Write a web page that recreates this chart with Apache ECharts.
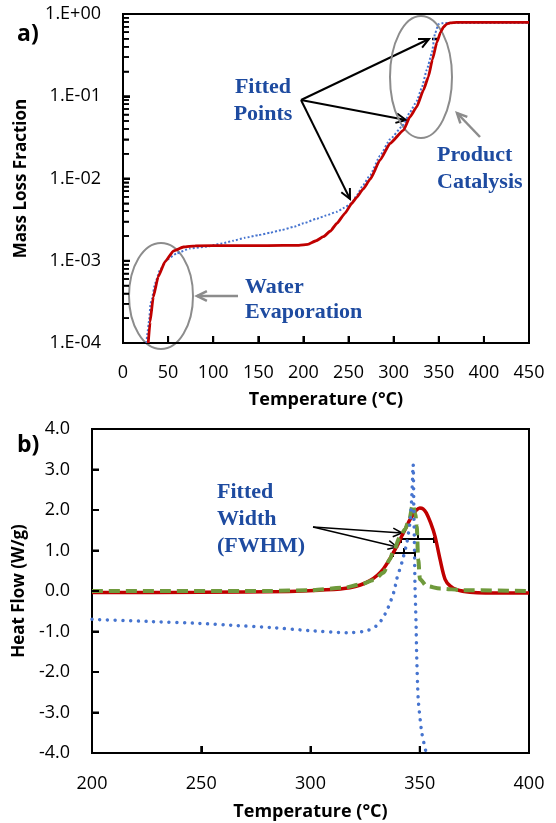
<!DOCTYPE html>
<html><head><meta charset="utf-8">
<script src="https://cdn.jsdelivr.net/npm/echarts@6/dist/echarts.min.js"></script>
<style>html,body{margin:0;padding:0;background:#fff}#c{width:556px;height:823px}</style>
</head><body><div id="c"></div>
<script>
// ---------- Panel a: mass loss fraction (log) ----------
const tempA_fit = [28, 30, 33.5, 39, 46.5, 56, 67, 80, 120, 160, 195, 205, 214, 222, 230, 237, 246, 253.5, 259, 266, 274, 285, 296, 311, 318, 325.5, 333, 338.4, 343, 347.8, 352, 355, 358.5, 362.5, 370, 450];
const massA_fit = [1.0e-4, 1.8e-4, 3.6e-4, 6.4e-4, 9.7e-4, 1.32e-3, 1.47e-3, 1.52e-3, 1.53e-3, 1.53e-3, 1.54e-3, 1.58e-3, 1.75e-3, 1.96e-3, 2.3e-3, 2.85e-3, 3.77e-3, 4.98e-3, 5.9e-3, 7.4e-3, 9.8e-3, 1.68e-2, 2.67e-2, 3.87e-2, 5.6e-2, 7.4e-2, 0.119, 0.172, 0.28, 0.45, 0.6, 0.69, 0.75, 0.78, 0.79, 0.79];
const tempA_exp = [26, 27, 29, 30.5, 32, 35.5, 41, 48, 59.5, 74, 93, 100, 110, 122, 135, 150, 163, 175, 190, 200, 215, 225, 237, 245, 253.5, 259, 266, 274, 285, 296, 311, 318, 325.5, 331, 336.7, 342.2, 345.9, 349.6, 353, 360, 450];
const massA_exp = [1.0e-4, 1.3e-4, 1.9e-4, 3.0e-4, 3.4e-4, 5.3e-4, 7.7e-4, 1.02e-3, 1.23e-3, 1.41e-3, 1.48e-3, 1.55e-3, 1.62e-3, 1.75e-3, 1.9e-3, 2.05e-3, 2.19e-3, 2.35e-3, 2.6e-3, 2.85e-3, 3.25e-3, 3.55e-3, 3.94e-3, 4.4e-3, 5.0e-3, 6.2e-3, 8.3e-3, 1.1e-2, 1.9e-2, 3.0e-2, 4.5e-2, 6.4e-2, 8.7e-2, 0.125, 0.21, 0.33, 0.58, 0.75, 0.77, 0.78, 0.78];
const yTickLabelsA = ['1.E-04', '1.E-03', '1.E-02', '1.E-01', '1.E+00'];
const xTicksA = [50, 100, 150, 200, 250, 300, 350, 400];
const yDecadesA = [1e-4, 1e-3, 1e-2, 1e-1, 1];
const minorMultipliers = [2, 3, 4, 5, 6, 7, 8, 9];

// ---------- Panel b: heat flow ----------
const tempB_fit = [200, 250, 290, 304, 318, 327, 333.4, 339.5, 342, 344, 345.5, 347, 348.5, 350, 351.5, 353, 355, 357, 359.3, 361.6, 364, 367, 373, 380, 400];
const heatB_fit = [-0.04, -0.03, -0.01, 0.02, 0.08, 0.25, 0.55, 1.1, 1.38, 1.6, 1.76, 1.89, 2.0, 2.05, 2.03, 1.93, 1.68, 1.35, 0.78, 0.29, 0.12, 0.03, -0.03, -0.05, -0.05];
const tempB_fit2 = [200, 280, 300, 315, 323, 329, 333.4, 336.3, 338, 341, 343.2, 345.2, 346.8, 348, 348.6, 349.3, 350.1, 353.2, 359.3, 370, 400];
const heatB_fit2 = [0.0, 0.0, 0.02, 0.08, 0.16, 0.27, 0.45, 0.78, 1.0, 1.33, 1.52, 1.77, 2.13, 1.9, 1.6, 0.78, 0.29, 0.12, 0.06, 0.02, 0.0];
const tempB_exp = [200, 225, 249.4, 265, 281.5, 300, 317, 324, 328, 330.6, 333, 334.6, 336.1, 337.3, 338.4, 339.5, 341.8, 344.1, 345.5, 346.3, 347, 347.3, 347.6, 347.8, 348.3, 348.6, 349.3, 350.9, 352.7, 353.2];
const heatB_exp = [-0.70, -0.75, -0.80, -0.85, -0.90, -0.98, -1.03, -1.00, -0.94, -0.84, -0.68, -0.52, -0.34, -0.16, 0.02, 0.3, 0.70, 1.19, 1.68, 2.26, 3.12, 2.0, 1.0, 0.19, -0.78, -1.6, -2.67, -3.49, -3.94, -4.0];
const yTickLabelsB = ['-4.0', '-3.0', '-2.0', '-1.0', '0.0', '1.0', '2.0', '3.0', '4.0'];
const xTicksB = [250, 300, 350];
const yTicksB = [-3, -2, -1, 0, 1, 2, 3];

const zip = (xs, ys) => xs.map((x, i) => [x, ys[i]]);
const RED = '#c00000', BLUE = '#4674cf', GREEN = '#6f9a3c', TXT = '#1e4ba0', GRAY = '#8c8c8c';
const SANS = 'Open Sans';
const SERIF = 'Liberation Serif';

function arrow(x1, y1, x2, y2, color, w, h) {
  const a = Math.atan2(y2 - y1, x2 - x1), sp = 0.45;
  return [
    {type: 'line', shape: {x1, y1, x2, y2}, style: {stroke: color, lineWidth: w}},
    {type: 'polyline', shape: {points: [[x2 - h * Math.cos(a - sp), y2 - h * Math.sin(a - sp)], [x2, y2], [x2 - h * Math.cos(a + sp), y2 - h * Math.sin(a + sp)]]}, style: {stroke: color, lineWidth: w, fill: null}}
  ];
}
function txt(t, x, y, font, color, align) {
  return {type: 'text', x: x, y: y, style: {text: t, font: font, fill: color, textAlign: align || 'left', textVerticalAlign: 'middle'}};
}
function ln(x1, y1, x2, y2, w) {
  return {type: 'line', shape: {x1, y1, x2, y2}, style: {stroke: '#000', lineWidth: w || 2}};
}
const annFont = 'bold 22px "' + SERIF + '"';

const graphics = [].concat(
  [txt('a)', 17, 34, 'bold 23px "' + SANS + '"', '#000'), txt('b)', 17, 445, 'bold 23px "' + SANS + '"', '#000')],
  [txt('Fitted', 263, 87, annFont, TXT, 'center'), txt('Points', 263, 114, annFont, TXT, 'center')],
  [txt('Product', 437, 155, annFont, TXT), txt('Catalysis', 437, 182, annFont, TXT)],
  [txt('Water', 245, 287, annFont, TXT), txt('Evaporation', 245, 312, annFont, TXT)],
  [txt('Fitted', 217, 492, annFont, TXT), txt('Width', 217, 519, annFont, TXT), txt('(FWHM)', 217, 546, annFont, TXT)],
  arrow(301, 100, 429, 39, '#000', 2, 11),
  arrow(301, 100, 406, 120, '#000', 2, 11),
  arrow(301, 100, 350, 199, '#000', 2, 11),
  arrow(480, 137, 457, 113, GRAY, 2.5, 11),
  arrow(238, 296, 197, 296, GRAY, 2.5, 11),
  arrow(313, 527, 402, 533, '#000', 1.5, 10),
  arrow(313, 527, 397, 547, '#000', 1.5, 10),
  [
    {type: 'ellipse', shape: {cx: 421, cy: 77, rx: 31, ry: 61}, style: {stroke: GRAY, fill: null, lineWidth: 2}},
    {type: 'ellipse', shape: {cx: 161, cy: 296, rx: 32, ry: 53}, style: {stroke: GRAY, fill: null, lineWidth: 2}},
    ln(432, 39, 439, 39, 2.5),
    ln(401, 539, 434, 539), ln(401, 537, 401, 543), ln(434, 537, 434, 543), ln(418, 533, 418, 539),
    ln(393, 553, 415, 553), ln(393, 551, 393, 557), ln(415, 551, 415, 557), ln(404, 548, 404, 553)
  ]
);

const axLine = () => ({show: true, onZero: false, lineStyle: {color: '#000', width: 2}});
const axTick = () => ({show: true, inside: true, length: 7, lineStyle: {color: '#000', width: 2}});
const lbl = (extra) => Object.assign({color: '#000', fontSize: 18, fontFamily: SANS}, extra);
const nm = (size) => ({color: '#000', fontSize: size, fontWeight: 'bold', fontFamily: SANS});

const chart = echarts.init(document.getElementById('c'), null, {renderer: 'canvas'});
chart.setOption({
  animation: false,
  grid: [
    {left: 123, top: 14, width: 406, height: 329, show: true, borderColor: '#000', borderWidth: 2},
    {left: 92, top: 429, width: 437, height: 324, show: true, borderColor: '#000', borderWidth: 2}
  ],
  xAxis: [
    {type: 'value', gridIndex: 0, min: 0, max: 450, interval: 50, axisLine: axLine(), axisTick: axTick(), splitLine: {show: false},
     axisLabel: lbl({margin: 21}), name: 'Temperature (°C)', nameLocation: 'middle', nameGap: 48, nameTextStyle: nm(18)},
    {type: 'value', gridIndex: 1, min: 200, max: 400, interval: 50, axisLine: axLine(), axisTick: axTick(), splitLine: {show: false},
     axisLabel: lbl({margin: 22}), name: 'Temperature (°C)', nameLocation: 'middle', nameGap: 50, nameTextStyle: nm(18)}
  ],
  yAxis: [
    {type: 'log', logBase: 10, gridIndex: 0, min: 1e-4, max: 1, axisLine: axLine(), axisTick: axTick(), splitLine: {show: false},
     minorTick: {show: true, splitNumber: 9, length: 6, lineStyle: {color: '#000', width: 1.5}}, minorSplitLine: {show: false},
     axisLabel: lbl({margin: 22, formatter: v => yTickLabelsA[Math.round(Math.log10(v)) + 4]}),
     name: 'Mass Loss Fraction', nameLocation: 'middle', nameGap: 93, nameRotate: 90, nameTextStyle: nm(17)},
    {type: 'value', gridIndex: 1, min: -4, max: 4, interval: 1, axisLine: axLine(), axisTick: axTick(), splitLine: {show: false},
     axisLabel: lbl({margin: 22, formatter: v => yTickLabelsB[Math.round(v) + 4]}),
     name: 'Heat Flow (W/g)', nameLocation: 'middle', nameGap: 62, nameRotate: 90, nameTextStyle: nm(17)}
  ],
  series: [
    {type: 'line', xAxisIndex: 0, yAxisIndex: 0, data: zip(tempA_exp, massA_exp), showSymbol: false, smooth: 0.15, smoothMonotone: 'x',
     lineStyle: {color: BLUE, width: 2, type: [2, 2]}},
    {type: 'line', xAxisIndex: 0, yAxisIndex: 0, data: zip(tempA_fit, massA_fit), showSymbol: false, smooth: 0.15, smoothMonotone: 'x',
     lineStyle: {color: RED, width: 2.8}},
    {type: 'line', xAxisIndex: 1, yAxisIndex: 1, data: zip(tempB_fit, heatB_fit), showSymbol: false, smooth: 0.3,
     lineStyle: {color: RED, width: 3.5}},
    {type: 'line', xAxisIndex: 1, yAxisIndex: 1, data: zip(tempB_fit2, heatB_fit2), showSymbol: false, smooth: 0.3, smoothMonotone: 'x',
     lineStyle: {color: GREEN, width: 4, type: [11, 6]}},
    {type: 'line', xAxisIndex: 1, yAxisIndex: 1, data: zip(tempB_exp, heatB_exp), showSymbol: false, smooth: 0.2,
     lineStyle: {color: BLUE, width: 3.5, type: [0.01, 7.7], cap: 'round'}}
  ]
});

// Explicit inside tick marks as small filled rects, positioned through the axis scales
const tickEls = [];
const rectTick = (x, y, w, h) => tickEls.push({type: 'rect', z: 100, shape: {x, y, width: w, height: h}, style: {fill: '#000'}});
const pa = v => chart.convertToPixel({xAxisIndex: 0, yAxisIndex: 0}, v);
const pb = v => chart.convertToPixel({xAxisIndex: 1, yAxisIndex: 1}, v);
xTicksA.forEach(t => { const p = pa([t, 1e-4]); rectTick(p[0] - 1, p[1] - 7, 2, 7); });
yDecadesA.forEach(d => {
  const p = pa([0, d]); rectTick(p[0], p[1] - 1, 7, 2);
  if (d < 1) minorMultipliers.forEach(m => { const q = pa([0, m * d]); rectTick(q[0], q[1] - 0.75, 6, 1.5); });
});
xTicksB.forEach(t => { const p = pb([t, -4]); rectTick(p[0] - 1, p[1] - 7, 2, 7); });
yTicksB.forEach(v => { const p = pb([200, v]); rectTick(p[0], p[1] - 1, 7, 2); });

chart.setOption({graphic: {elements: graphics.concat(tickEls)}});
</script>
</body></html>
